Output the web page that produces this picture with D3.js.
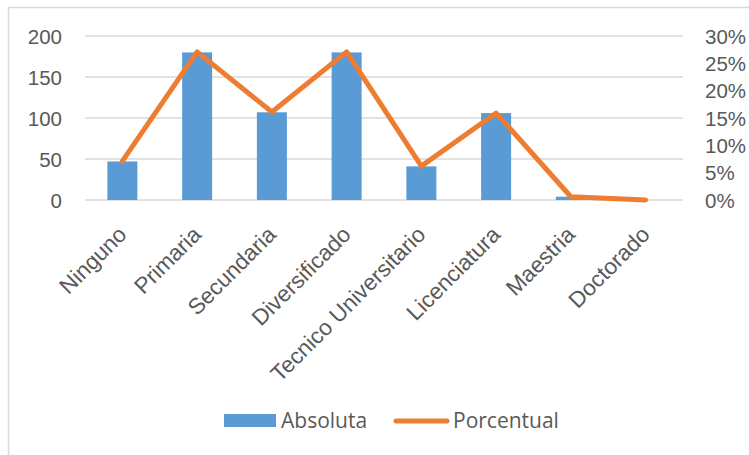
<!DOCTYPE html>
<head>
<meta charset="utf-8">
<style>
body { margin: 0; background: #fff; }
svg { font-family: "Open Sans", sans-serif; }
.grid line { stroke: #d9d9d9; stroke-width: 1.5; }
.axis text { fill: #595959; font-size: 20.5px; }
.axis path, .axis line { display: none; }
.ejex text { font-size: 22.5px; }
.legend text { fill: #595959; font-size: 21px; }
</style>
</head>
<body>
<svg width="749" height="455"></svg>
<script src="https://d3js.org/d3.v7.min.js"></script>
<script>
// datos
var categorias = ["Ninguno", "Primaria", "Secundaria", "Diversificado", "Tecnico Universitario", "Licenciatura", "Maestria", "Doctorado"];
var absoluta = [47, 180, 107, 180, 41, 106, 4, 0];
var porcentual = [0.071, 0.271, 0.161, 0.271, 0.062, 0.159, 0.006, 0];
var ticksIzq = [0, 50, 100, 150, 200];
var ticksDer = [0, 0.05, 0.10, 0.15, 0.20, 0.25, 0.30];

var svg = d3.select("svg");

// marco
svg.append("rect")
  .attr("x", 8.5).attr("y", 7.5)
  .attr("width", 760).attr("height", 460)
  .attr("fill", "none").attr("stroke", "#d9d9d9").attr("stroke-width", 1.5);

var mIzq = 85, mDer = 683, mArr = 36, mAba = 200;

var xc = d3.scalePoint().domain(categorias).range([mIzq, mDer]).padding(0.5);
var y = d3.scaleLinear().domain([0, 200]).range([mAba, mArr]);
var y2 = d3.scaleLinear().domain([0, 0.30]).range([mAba, mArr]);

// lineas de cuadricula
svg.append("g").attr("class", "grid")
  .selectAll("line").data(ticksIzq).enter().append("line")
  .attr("x1", mIzq).attr("x2", mDer)
  .attr("y1", function(d) { return y(d); })
  .attr("y2", function(d) { return y(d); });

// barras
svg.append("g").selectAll("rect")
  .data(absoluta).enter().append("rect")
  .attr("x", function(d, i) { return xc(categorias[i]) - 15; })
  .attr("width", 30)
  .attr("y", function(d) { return y(d); })
  .attr("height", function(d) { return mAba - y(d); })
  .attr("fill", "#5b9bd5");

// linea porcentual
var linea = d3.line()
  .x(function(d, i) { return xc(categorias[i]); })
  .y(function(d) { return y2(d); });
svg.append("path")
  .datum(porcentual)
  .attr("d", linea)
  .attr("fill", "none")
  .attr("stroke", "#ed7d31")
  .attr("stroke-width", 5)
  .attr("stroke-linejoin", "round")
  .attr("stroke-linecap", "round");

// ejes
svg.append("g").attr("class", "axis")
  .attr("transform", "translate(" + (mIzq - 23) + ",0)")
  .call(d3.axisLeft(y).tickValues(ticksIzq).tickSize(0).tickPadding(0))
  .selectAll("text").attr("dy", "0.35em");

svg.append("g").attr("class", "axis")
  .attr("transform", "translate(" + (mDer + 22) + ",0)")
  .call(d3.axisRight(y2).tickValues(ticksDer).tickSize(0).tickPadding(0).tickFormat(d3.format(".0%")))
  .selectAll("text").attr("dy", "0.35em");

var ejeX = svg.append("g").attr("class", "axis ejex")
  .attr("transform", "translate(0," + mAba + ")")
  .call(d3.axisBottom(xc).tickSize(0).tickPadding(0));
ejeX.selectAll("text")
  .attr("text-anchor", "end")
  .attr("dy", "0")
  .attr("transform", "translate(5,36) rotate(-45)");

// leyenda
var ley = svg.append("g").attr("class", "legend");
ley.append("rect").attr("x", 224).attr("y", 414).attr("width", 52).attr("height", 13).attr("fill", "#5b9bd5");
ley.append("text").attr("x", 281).attr("y", 421).attr("dy", "0.35em").text("Absoluta");
ley.append("line").attr("x1", 396).attr("x2", 447).attr("y1", 421).attr("y2", 421)
  .attr("stroke", "#ed7d31").attr("stroke-width", 5).attr("stroke-linecap", "round");
ley.append("text").attr("x", 453).attr("y", 421).attr("dy", "0.35em").text("Porcentual");
</script>
</body>
